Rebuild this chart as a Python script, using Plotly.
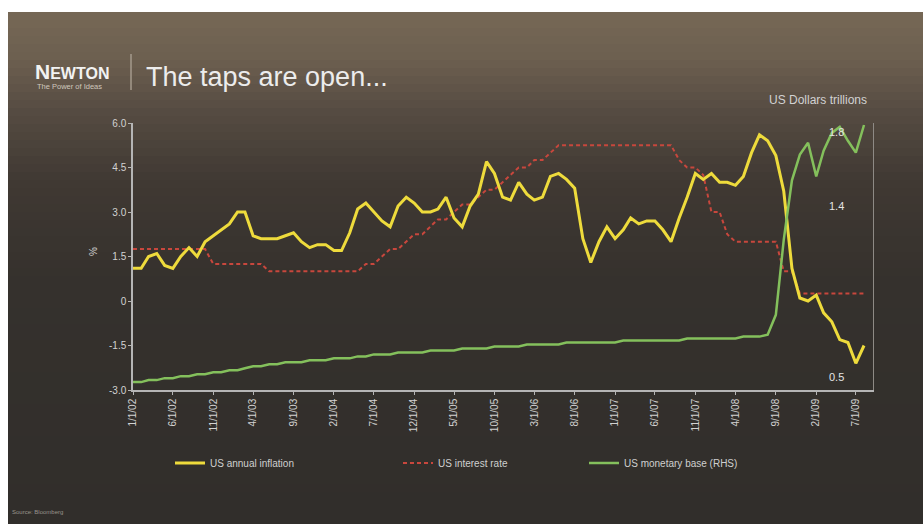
import plotly.graph_objects as go
import pandas as pd

# ---- data -------------------------------------------------------------
months = pd.date_range("2002-01-01", "2009-08-01", freq="MS")

# US CPI inflation, % y/y (left axis)
inflation = [
    1.1, 1.1, 1.5, 1.6, 1.2, 1.1, 1.5, 1.8, 1.5, 2.0, 2.2, 2.4,
    2.6, 3.0, 3.0, 2.2, 2.1, 2.1, 2.1, 2.2, 2.3, 2.0, 1.8, 1.9,
    1.9, 1.7, 1.7, 2.3, 3.1, 3.3, 3.0, 2.7, 2.5, 3.2, 3.5, 3.3,
    3.0, 3.0, 3.1, 3.5, 2.8, 2.5, 3.2, 3.6, 4.7, 4.3, 3.5, 3.4,
    4.0, 3.6, 3.4, 3.5, 4.2, 4.3, 4.1, 3.8, 2.1, 1.3, 2.0, 2.5,
    2.1, 2.4, 2.8, 2.6, 2.7, 2.7, 2.4, 2.0, 2.8, 3.5, 4.3, 4.1,
    4.3, 4.0, 4.0, 3.9, 4.2, 5.0, 5.6, 5.4, 4.9, 3.7, 1.1, 0.1,
    0.0, 0.2, -0.4, -0.7, -1.3, -1.4, -2.1, -1.5,
]

# US policy interest rate, % (left axis)
interest_rate = [
    1.75, 1.75, 1.75, 1.75, 1.75, 1.75, 1.75, 1.75, 1.75, 1.75, 1.25, 1.25,
    1.25, 1.25, 1.25, 1.25, 1.25, 1.00, 1.00, 1.00, 1.00, 1.00, 1.00, 1.00,
    1.00, 1.00, 1.00, 1.00, 1.00, 1.25, 1.25, 1.50, 1.75, 1.75, 2.00, 2.25,
    2.25, 2.50, 2.75, 2.75, 3.00, 3.25, 3.25, 3.50, 3.75, 3.75, 4.00, 4.25,
    4.50, 4.50, 4.75, 4.75, 5.00, 5.25, 5.25, 5.25, 5.25, 5.25, 5.25, 5.25,
    5.25, 5.25, 5.25, 5.25, 5.25, 5.25, 5.25, 5.25, 4.75, 4.50, 4.50, 4.25,
    3.00, 3.00, 2.25, 2.00, 2.00, 2.00, 2.00, 2.00, 2.00, 1.00, 1.00, 0.25,
    0.25, 0.25, 0.25, 0.25, 0.25, 0.25, 0.25, 0.25,
]

# US monetary base, USD trillions (right axis)
monetary_base = [
    0.51, 0.51, 0.52, 0.52, 0.53, 0.53, 0.54, 0.54, 0.55, 0.55, 0.56, 0.56,
    0.57, 0.57, 0.58, 0.59, 0.59, 0.60, 0.60, 0.61, 0.61, 0.61, 0.62, 0.62,
    0.62, 0.63, 0.63, 0.63, 0.64, 0.64, 0.65, 0.65, 0.65, 0.66, 0.66, 0.66,
    0.66, 0.67, 0.67, 0.67, 0.67, 0.68, 0.68, 0.68, 0.68, 0.69, 0.69, 0.69,
    0.69, 0.70, 0.70, 0.70, 0.70, 0.70, 0.71, 0.71, 0.71, 0.71, 0.71, 0.71,
    0.71, 0.72, 0.72, 0.72, 0.72, 0.72, 0.72, 0.72, 0.72, 0.73, 0.73, 0.73,
    0.73, 0.73, 0.73, 0.73, 0.74, 0.74, 0.74, 0.75, 0.85, 1.23, 1.53, 1.66,
    1.72, 1.55, 1.68, 1.77, 1.80, 1.73, 1.67, 1.81,
]

tick_dates = [
    "2002-01-01", "2002-06-01", "2002-11-01", "2003-04-01", "2003-09-01",
    "2004-02-01", "2004-07-01", "2004-12-01", "2005-05-01", "2005-10-01",
    "2006-03-01", "2006-08-01", "2007-01-01", "2007-06-01", "2007-11-01",
    "2008-04-01", "2008-09-01", "2009-02-01", "2009-07-01",
]
tick_labels = [
    "1/1/02", "6/1/02", "11/1/02", "4/1/03", "9/1/03",
    "2/1/04", "7/1/04", "12/1/04", "5/1/05", "10/1/05",
    "3/1/06", "8/1/06", "1/1/07", "6/1/07", "11/1/07",
    "4/1/08", "9/1/08", "2/1/09", "7/1/09",
]

left_ticks = [-3, -1.5, 0, 1.5, 3, 4.5, 6]
left_labels = ["-3.0", "-1.5", "0", "1.5", "3.0", "4.5", "6.0"]
right_ticks = [0.5, 1.4, 1.8]
right_labels = ["0.5", "1.4", "1.8"]

# ---- page geometry ----------------------------------------------------
W, H = 923, 524
L, R, T, B = 133, 50, 123, 134
PW, PH = W - L - R, H - T - B


def px_x(x):
    return (x - L) / PW


def px_y(y):
    return (H - B - y) / PH


FONT = "Liberation Sans, Arial, sans-serif"
LABEL = "#d2d2d2"
AXIS = "#b5b5b5"

fig = go.Figure()

fig.add_trace(go.Scatter(
    x=months, y=interest_rate, name="US interest rate", mode="lines",
    line=dict(color="#c8473d", width=2, dash="4px,3px"),
    legend="legend2", showlegend=True,
))
fig.add_trace(go.Scatter(
    x=months, y=monetary_base, name="US monetary base (RHS)", mode="lines",
    line=dict(color="#84c05c", width=2.5), yaxis="y2",
    legend="legend3", showlegend=True,
))
fig.add_trace(go.Scatter(
    x=months, y=inflation, name="US annual inflation", mode="lines",
    line=dict(color="#eedb3c", width=3),
    legend="legend", showlegend=True,
))

# slide background: vertical brown gradient built from thin bands
stops = [(12, (118, 104, 86)), (60, (108, 95, 79)), (110, (86, 76, 66)),
         (180, (64, 57, 51)), (280, (53, 49, 45)), (524, (49, 46, 43))]
shapes = []
n_bands = 64
top, bottom = 12, H
for i in range(n_bands):
    y0 = top + (bottom - top) * i / n_bands
    y1 = top + (bottom - top) * (i + 1) / n_bands
    yc = (y0 + y1) / 2
    for (a, ca), (b, cb) in zip(stops[:-1], stops[1:]):
        if a <= yc <= b:
            t = (yc - a) / (b - a)
            col = tuple(int(round(ca[k] + (cb[k] - ca[k]) * t)) for k in range(3))
            break
    shapes.append(dict(
        type="rect", xref="paper", yref="paper", layer="below",
        x0=px_x(8), x1=px_x(W), y0=px_y(y1 + 0.6), y1=px_y(y0),
        fillcolor="rgb(%d,%d,%d)" % col, line=dict(width=0),
    ))

# separator next to the logo
shapes.append(dict(
    type="line", xref="paper", yref="paper",
    x0=px_x(131), x1=px_x(131), y0=px_y(54), y1=px_y(90),
    line=dict(color="#a59a8c", width=1.5),
))

annotations = [
    dict(text="<b>N<span style='font-size:16px'>EWTON</span></b>",
         x=px_x(33), y=px_y(71), xanchor="left", yanchor="middle",
         font=dict(family=FONT, size=21, color="#f2f2f2")),
    dict(text="The Power of Ideas", x=px_x(35), y=px_y(87),
         xanchor="left", yanchor="middle",
         font=dict(family=FONT, size=7.5, color="#cfc8bd")),
    dict(text="The taps are open...", x=px_x(144), y=px_y(77),
         xanchor="left", yanchor="middle",
         font=dict(family=FONT, size=27, color="#ececec")),
    dict(text="US Dollars trillions", x=px_x(869), y=px_y(100),
         xanchor="right", yanchor="middle",
         font=dict(family=FONT, size=12, color=LABEL)),
    dict(text="%", x=px_x(93), y=px_y(252), textangle=-90,
         xanchor="center", yanchor="middle",
         font=dict(family=FONT, size=10, color=LABEL)),
    dict(text="Source: Bloomberg", x=px_x(10), y=px_y(512),
         xanchor="left", yanchor="middle",
         font=dict(family=FONT, size=6, color="#9a948c")),
]
# right-hand axis labels sit inside the plot, left of the axis line
for v, lab in zip(right_ticks, right_labels):
    shift = -5 if v == max(right_ticks) else (7 if v == min(right_ticks) else 0)
    annotations.append(dict(
        text=lab, x=px_x(846), y=v, yref="y2", xanchor="right",
        yanchor="middle", yshift=shift,
        font=dict(family=FONT, size=11, color="#e4e4e4"),
    ))
for a in annotations:
    a.setdefault("xref", "paper")
    a.setdefault("yref", "paper")
    a["showarrow"] = False

legend_style = dict(
    orientation="h", xref="paper", yref="paper", xanchor="left",
    yanchor="middle", bgcolor="rgba(0,0,0,0)", itemwidth=30,
    font=dict(family=FONT, size=10, color="#cfcfcf"),
)

fig.update_layout(
    width=W, height=H,
    margin=dict(l=L, r=R, t=T, b=B),
    paper_bgcolor="white",
    plot_bgcolor="rgba(0,0,0,0)",
    font=dict(family=FONT, color=LABEL),
    showlegend=True,
    shapes=shapes,
    annotations=annotations,
    legend=dict(legend_style, x=px_x(170), y=px_y(463)),
    legend2=dict(legend_style, x=px_x(398), y=px_y(463)),
    legend3=dict(legend_style, x=px_x(584), y=px_y(463)),
    xaxis=dict(
        type="date", range=["2002-01-01", "2009-09-04"],
        tickvals=tick_dates, ticktext=tick_labels, tickangle=-90,
        tickfont=dict(size=10, color=LABEL),
        showline=True, linecolor=AXIS, linewidth=1.5,
        ticks="outside", ticklen=3, tickcolor=AXIS,
        showgrid=False, zeroline=False,
    ),
    yaxis=dict(
        range=[-3, 6], tickvals=left_ticks, ticktext=left_labels,
        tickfont=dict(size=10, color=LABEL),
        showline=True, linecolor=AXIS, linewidth=1.5,
        ticks="outside", ticklen=3, tickcolor=AXIS,
        showgrid=False, zeroline=False,
    ),
    yaxis2=dict(
        overlaying="y", side="right", range=[0.47, 1.82],
        tickvals=right_ticks, showticklabels=False,
        showline=True, linecolor="#8e8a85", linewidth=1,
        ticks="", showgrid=False, zeroline=False,
    ),
)

fig.write_html("out.html")
